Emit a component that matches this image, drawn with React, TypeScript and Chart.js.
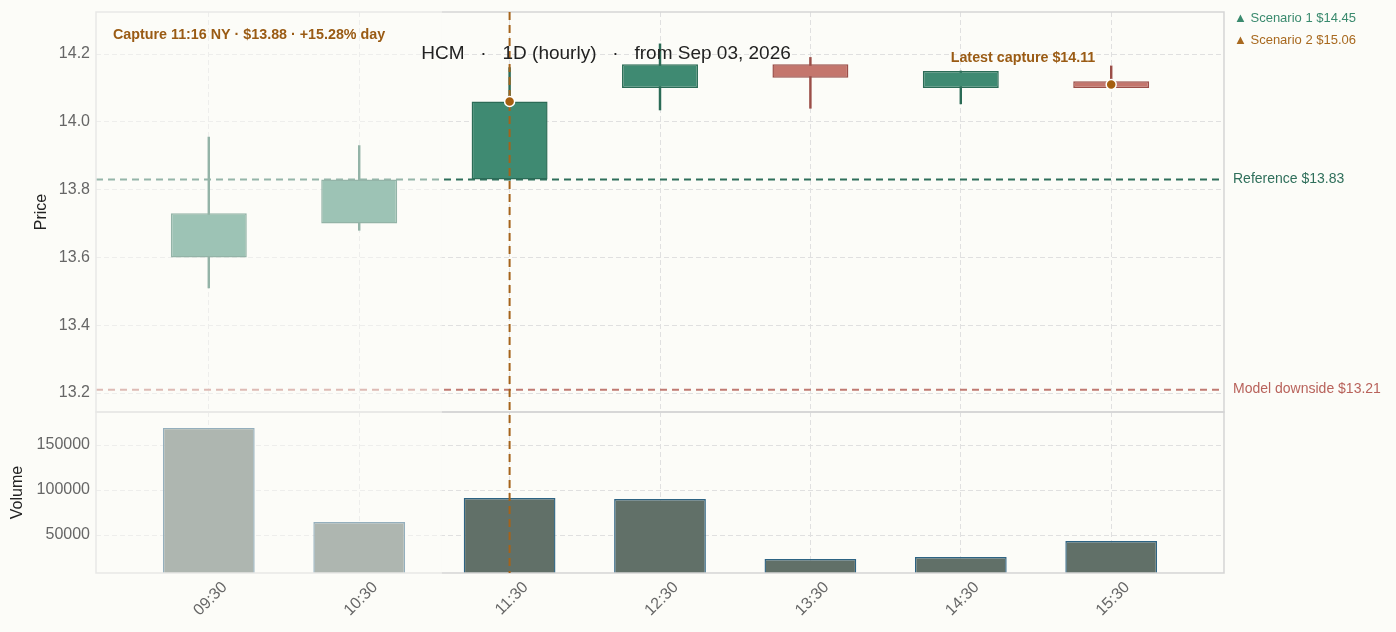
import { useEffect, useRef } from 'react'
import { Chart, registerables } from 'chart.js'

Chart.register(...registerables)

const times = ['09:30', '10:30', '11:30', '12:30', '13:30', '14:30', '15:30']
const opens = [13.6, 13.7, 13.83, 14.1, 14.17, 14.1, 14.12]
const highs = [13.955, 13.93, 14.16, 14.23, 14.19, 14.15, 14.165]
const lows = [13.51, 13.68, 13.83, 14.035, 14.04, 14.053, 14.1]
const closes = [13.73, 13.83, 14.06, 14.17, 14.13, 14.15, 14.1]
const volumes = [169000, 64400, 91100, 90000, 23300, 25600, 43300]
const priceTicks = [13.2, 13.4, 13.6, 13.8, 14.0, 14.2]
const volumeTicks = [50000, 100000, 150000]

const referencePrice = 13.83
const downsidePrice = 13.21
const captureIndex = 2
const capturePrice = 14.06
const latestIndex = 6
const latestPrice = 14.11
const fadeUntil = 1.55 // x position where the pre-capture shading ends

const BG = '#fcfcf8'
const FONT = '"Liberation Sans", Arial, sans-serif'
const UP = '#3f8a72'
const UP_EDGE = '#2b6b56'
const DOWN = '#c4766d'
const DOWN_EDGE = '#9b4e48'
const CAPTURE = '#a5631b'

const isUp = opens.map((o, i) => closes[i] >= o)

const overlayPlugin = {
  id: 'overlay',
  beforeDraw(chart: Chart) {
    const { ctx, width, height } = chart
    ctx.save()
    ctx.fillStyle = BG
    ctx.fillRect(0, 0, width, height)
    ctx.restore()
  },
  afterDatasetsDraw(chart: Chart) {
    const { ctx, chartArea } = chart
    const x = chart.scales.x
    const y = chart.scales.y
    const yv = chart.scales.yv
    const { left, right } = chartArea

    // reference lines
    ctx.save()
    ctx.lineWidth = 2
    ctx.setLineDash([7, 5])
    ctx.strokeStyle = '#2f6f5b'
    let py = y.getPixelForValue(referencePrice)
    ctx.beginPath()
    ctx.moveTo(left, py)
    ctx.lineTo(right, py)
    ctx.stroke()
    ctx.strokeStyle = '#c07a72'
    py = y.getPixelForValue(downsidePrice)
    ctx.beginPath()
    ctx.moveTo(left, py)
    ctx.lineTo(right, py)
    ctx.stroke()
    ctx.restore()

    // panel frames
    ctx.save()
    ctx.strokeStyle = '#d5d5d5'
    ctx.lineWidth = 1.5
    ctx.strokeRect(left, y.top, right - left, y.bottom - y.top)
    ctx.strokeRect(left, yv.top, right - left, yv.bottom - yv.top)
    ctx.restore()

    // pre-capture fade
    const fx = x.getPixelForValue(fadeUntil)
    ctx.save()
    ctx.fillStyle = 'rgba(252,252,248,0.5)'
    ctx.fillRect(left - 1, chartArea.top - 1, fx - left + 1, chartArea.bottom - chartArea.top + 2)
    ctx.restore()

    // capture vertical line
    const cx = x.getPixelForValue(captureIndex)
    ctx.save()
    ctx.strokeStyle = CAPTURE
    ctx.lineWidth = 2
    ctx.setLineDash([8, 5])
    ctx.beginPath()
    ctx.moveTo(cx, chartArea.top)
    ctx.lineTo(cx, chartArea.bottom)
    ctx.stroke()
    ctx.restore()

    // markers
    const dots: [number, number][] = [
      [captureIndex, capturePrice],
      [latestIndex, latestPrice],
    ]
    ctx.save()
    dots.forEach(([i, v]) => {
      ctx.beginPath()
      ctx.arc(x.getPixelForValue(i), y.getPixelForValue(v), 5, 0, Math.PI * 2)
      ctx.fillStyle = '#a55f10'
      ctx.fill()
      ctx.lineWidth = 1.5
      ctx.strokeStyle = '#ffffff'
      ctx.stroke()
    })
    ctx.restore()

    // texts
    ctx.save()
    ctx.textBaseline = 'middle'
    ctx.fillStyle = '#222'
    ctx.font = `19px ${FONT}`
    ctx.textAlign = 'center'
    ctx.fillText('HCM   ·   1D (hourly)   ·   from Sep 03, 2026', 606, 54)

    ctx.font = `bold 14.3px ${FONT}`
    ctx.fillStyle = '#9a5b14'
    ctx.textAlign = 'left'
    ctx.fillText('Capture 11:16 NY · $13.88 · +15.28% day', left + 17, 35)
    ctx.textAlign = 'center'
    ctx.fillText(`Latest capture $${latestPrice.toFixed(2)}`, 1023, 58)

    ctx.textAlign = 'left'
    ctx.font = `14px ${FONT}`
    ctx.fillStyle = '#2f6f5b'
    ctx.fillText(`Reference $${referencePrice.toFixed(2)}`, right + 9, y.getPixelForValue(referencePrice))
    ctx.fillStyle = '#b8625b'
    ctx.fillText(`Model downside $${downsidePrice.toFixed(2)}`, right + 9, y.getPixelForValue(downsidePrice))

    ctx.font = `13px ${FONT}`
    ctx.fillStyle = '#3a8a6e'
    ctx.fillText('▲ Scenario 1 $14.45', right + 10, 18)
    ctx.fillStyle = '#a8691f'
    ctx.fillText('▲ Scenario 2 $15.06', right + 10, 40)

    ctx.font = `16px ${FONT}`
    ctx.fillStyle = '#222'
    ctx.textAlign = 'center'
    ctx.translate(42, (y.top + y.bottom) / 2)
    ctx.rotate(-Math.PI / 2)
    ctx.fillText('Price', 0, 0)
    ctx.restore()

    ctx.save()
    ctx.font = `16px ${FONT}`
    ctx.fillStyle = '#222'
    ctx.textAlign = 'center'
    ctx.textBaseline = 'middle'
    ctx.translate(18, (yv.top + yv.bottom) / 2)
    ctx.rotate(-Math.PI / 2)
    ctx.fillText('Volume', 0, 0)
    ctx.restore()
  },
}

export default function App() {
  const chartRef = useRef<HTMLCanvasElement>(null)
  const chartInstance = useRef<Chart | null>(null)

  useEffect(() => {
    if (!chartRef.current) return
    if (chartInstance.current) chartInstance.current.destroy()
    const ctx = chartRef.current.getContext('2d')
    if (!ctx) return

    const gridCommon = {
      color: '#e0e0e0',
      lineWidth: 1,
      drawTicks: false,
    }
    const tickFont = { family: FONT, size: 16 }
    const fitY = (scale: any) => {
      scale.width = 96
      scale.paddingTop = 0
      scale.paddingBottom = 0
    }

    chartInstance.current = new Chart(ctx, {
      type: 'bar',
      data: {
        labels: times,
        datasets: [
          {
            label: 'Body',
            data: opens.map((o, i) => ({ x: i, y: [o, closes[i]] })),
            yAxisID: 'y',
            backgroundColor: isUp.map((u) => (u ? UP : DOWN)),
            borderColor: isUp.map((u) => (u ? UP_EDGE : DOWN_EDGE)),
            borderWidth: 1.5,
            borderSkipped: false,
            grouped: false,
            barPercentage: 0.505,
            categoryPercentage: 1,
            order: 0,
          },
          {
            label: 'Wick',
            data: lows.map((l, i) => ({ x: i, y: [l, highs[i]] })),
            yAxisID: 'y',
            backgroundColor: isUp.map((u) => (u ? UP_EDGE : DOWN_EDGE)),
            borderWidth: 0,
            grouped: false,
            barThickness: 1.8,
            order: 1,
          },
          {
            label: 'Volume',
            data: volumes.map((v, i) => ({ x: i, y: v })),
            yAxisID: 'yv',
            backgroundColor: '#617068',
            borderColor: '#2d6383',
            borderWidth: 1.4,
            borderSkipped: false,
            grouped: false,
            barPercentage: 0.61,
            categoryPercentage: 1,
            order: 2,
          },
        ],
      },
      options: {
        animation: false,
        responsive: true,
        maintainAspectRatio: false,
        layout: { padding: { top: 12, right: 172, left: 0, bottom: 0 } },
        plugins: {
          legend: { display: false },
          tooltip: { enabled: false },
        },
        scales: {
          x: {
            type: 'linear',
            min: -0.75,
            max: times.length - 0.25,
            offset: false,
            grid: { ...gridCommon, offset: false },
            border: { display: false, dash: [5, 3] },
            ticks: {
              color: '#666',
              font: { family: FONT, size: 16 },
              minRotation: 45,
              maxRotation: 45,
              autoSkip: false,
              labelOffset: 16,
              padding: 5,
              callback: (v: any) => times[v] ?? '',
            },
            afterBuildTicks: (scale: any) => {
              scale.ticks = times.map((_, i) => ({ value: i }))
            },
            afterFit: (scale: any) => {
              scale.height = 59
              scale.paddingLeft = 0
              scale.paddingRight = 0
            },
          },
          yv: {
            type: 'linear',
            position: 'left',
            stack: 'panels',
            stackWeight: 161,
            min: 7800,
            max: 186700,
            grid: gridCommon,
            border: { display: false, dash: [5, 3] },
            ticks: {
              color: '#666',
              font: tickFont,
              padding: 6,
              callback: (v: any) => String(v),
            },
            afterBuildTicks: (scale: any) => {
              scale.ticks = volumeTicks.map((value) => ({ value }))
            },
            afterFit: fitY,
          },
          y: {
            type: 'linear',
            position: 'left',
            stack: 'panels',
            stackWeight: 400,
            min: 13.144,
            max: 14.324,
            grid: gridCommon,
            border: { display: false, dash: [5, 3] },
            ticks: {
              color: '#666',
              font: tickFont,
              padding: 6,
              callback: (v: any) => Number(v).toFixed(1),
            },
            afterBuildTicks: (scale: any) => {
              scale.ticks = priceTicks.map((value) => ({ value }))
            },
            afterFit: fitY,
          },
        },
      },
      plugins: [overlayPlugin],
    } as any)

    return () => {
      if (chartInstance.current) {
        chartInstance.current.destroy()
        chartInstance.current = null
      }
    }
  }, [])

  return (
    <div style={{ position: 'fixed', left: 0, top: 0, width: 1396, height: 632, background: BG }}>
      <canvas ref={chartRef} />
    </div>
  )
}
